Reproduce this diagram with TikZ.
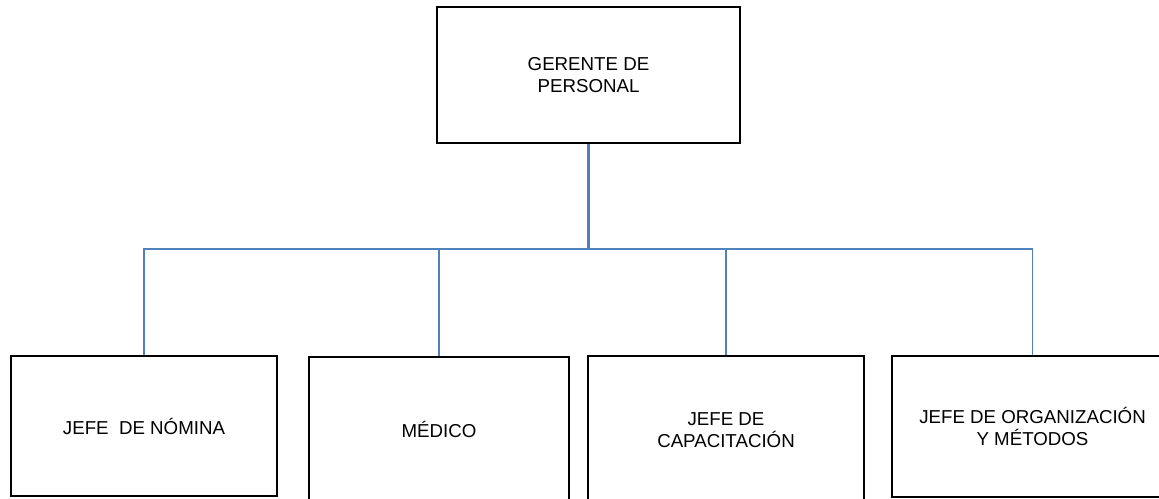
\documentclass[tikz,border=0pt]{standalone}
\usepackage{fontspec}
\setmainfont{Liberation Sans}
\definecolor{linkblue}{HTML}{4F81BD}
\begin{document}
\begin{tikzpicture}[x=1pt,y=-1pt,
  orgbox/.style={draw=black,line width=1.8pt,fill=white,inner sep=0pt,
    align=center,font=\fontsize{18.7}{22}\selectfont},
  link/.style={draw=linkblue,line width=1.6pt},
  trunk/.style={draw=linkblue,line width=2.4pt}]
\useasboundingbox (0,0) rectangle (1159,498);
\clip (0,0) rectangle (1159,498);
\fill[white] (0,0) rectangle (1159,498);
\node[orgbox,minimum width=303pt,minimum height=136pt] (top) at (588.5,75) {GERENTE DE\\PERSONAL};
\node[orgbox,minimum width=266pt,minimum height=140pt] (n1) at (144,426) {JEFE\ \ DE NÓMINA};
\node[orgbox,minimum width=260pt,minimum height=144pt] (n2) at (439,429) {MÉDICO};
\node[orgbox,minimum width=276pt,minimum height=148pt] (n3) at (726,430) {JEFE DE\\CAPACITACIÓN};
\node[orgbox,minimum width=281pt,minimum height=141pt] (n4) at (1032.5,426.5) {JEFE DE ORGANIZACIÓN\\Y MÉTODOS};
\coordinate (bus) at (588.5,249);
\draw[trunk] (top.south) -- (bus);
\draw[link] (n1.north) |- (bus) -| (n4.north);
\draw[link] (n2.north) -- (n2.north |- bus);
\draw[link] (n3.north) -- (n3.north |- bus);
\end{tikzpicture}
\end{document}
